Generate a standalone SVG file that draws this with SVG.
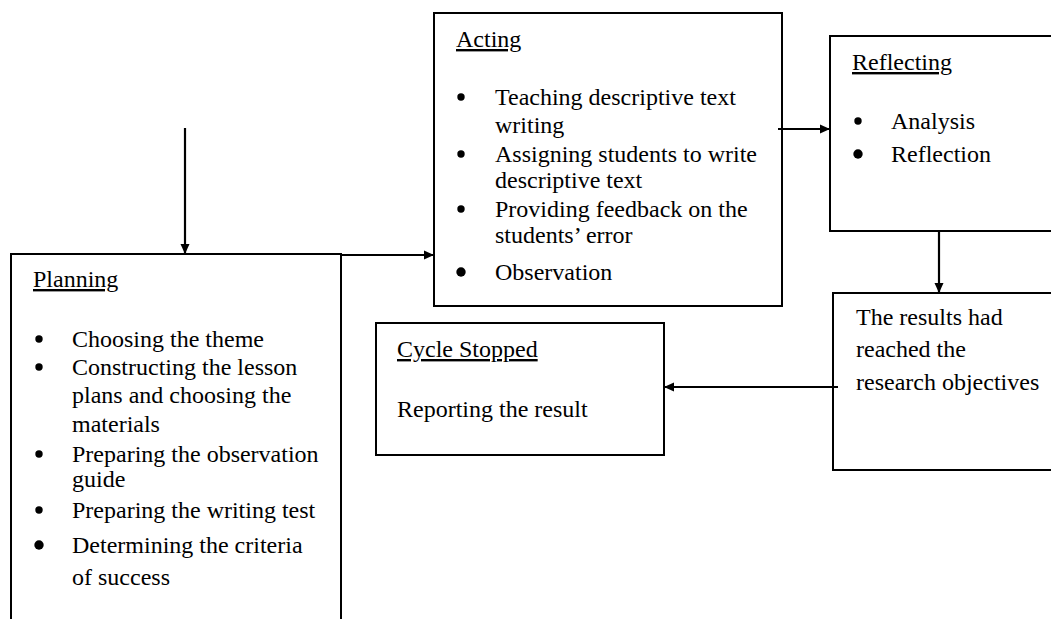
<svg xmlns="http://www.w3.org/2000/svg" width="1051" height="619" viewBox="0 0 1051 619">
<style>
.box{fill:#fff;stroke:#000;stroke-width:2}
.t{font-family:"Liberation Serif","Times New Roman",serif;font-size:24px;fill:#000}
.u{text-decoration:underline}
.c{stroke:#000;stroke-width:2.2;fill:none}
.b{fill:#000}
</style>
<defs>
<marker id="ah" markerWidth="12" markerHeight="12" refX="10" refY="6" orient="auto" markerUnits="userSpaceOnUse">
<path d="M0,1.5 L10,6 L0,10.5 Z" fill="#000"/>
</marker>
</defs>
<rect width="1051" height="619" fill="#fff"/>
<g id="planning">
<rect class="box" x="11" y="254" width="330" height="380"/>
<text class="t u" x="33" y="287">Planning</text>
<circle class="b" cx="39" cy="339" r="3.7"/>
<text class="t" x="72" y="347">Choosing the theme</text>
<circle class="b" cx="39" cy="367" r="3.7"/>
<text class="t" x="72" y="375">Constructing the lesson</text>
<text class="t" x="72" y="403">plans and choosing the</text>
<text class="t" x="72" y="432">materials</text>
<circle class="b" cx="39" cy="454" r="3.7"/>
<text class="t" x="72" y="462">Preparing the observation</text>
<text class="t" x="72" y="487">guide</text>
<circle class="b" cx="39" cy="510" r="3.7"/>
<text class="t" x="72" y="518">Preparing the writing test</text>
<circle class="b" cx="39" cy="545" r="4.7"/>
<text class="t" x="72" y="553">Determining the criteria</text>
<text class="t" x="72" y="585">of success</text>
</g>
<g id="acting">
<rect class="box" x="434" y="13" width="348" height="293"/>
<text class="t u" x="456" y="47">Acting</text>
<circle class="b" cx="461" cy="97" r="3.7"/>
<text class="t" x="495" y="105">Teaching descriptive text</text>
<text class="t" x="495" y="133">writing</text>
<circle class="b" cx="461" cy="154" r="3.7"/>
<text class="t" x="495" y="162">Assigning students to write</text>
<text class="t" x="495" y="188">descriptive text</text>
<circle class="b" cx="461" cy="209" r="3.7"/>
<text class="t" x="495" y="217">Providing feedback on the</text>
<text class="t" x="495" y="243">students’ error</text>
<circle class="b" cx="461" cy="272" r="4.7"/>
<text class="t" x="495" y="280">Observation</text>
</g>
<g id="reflecting">
<rect class="box" x="830" y="36" width="240" height="195"/>
<text class="t u" x="852" y="70">Reflecting</text>
<circle class="b" cx="858" cy="121" r="3.7"/>
<text class="t" x="891" y="129">Analysis</text>
<circle class="b" cx="858" cy="154" r="4.7"/>
<text class="t" x="891" y="162">Reflection</text>
</g>
<g id="results">
<rect class="box" x="833" y="293" width="240" height="177"/>
<text class="t" x="856" y="325">The results had</text>
<text class="t" x="856" y="357">reached the</text>
<text class="t" x="856" y="390">research objectives</text>
</g>
<g id="cycle-stopped">
<rect class="box" x="376" y="323" width="288" height="132"/>
<text class="t u" x="397" y="357">Cycle Stopped</text>
<text class="t" x="397" y="417">Reporting the result</text>
</g>
<g id="connectors">
<line class="c" x1="185" y1="128" x2="185" y2="254" marker-end="url(#ah)"/>
<line class="c" x1="341" y1="255" x2="434" y2="255" marker-end="url(#ah)"/>
<line class="c" x1="778" y1="129" x2="830" y2="129" marker-end="url(#ah)"/>
<line class="c" x1="939" y1="231" x2="939" y2="293" marker-end="url(#ah)"/>
<line class="c" x1="838" y1="387" x2="664" y2="387" marker-end="url(#ah)"/>
</g>
</svg>
